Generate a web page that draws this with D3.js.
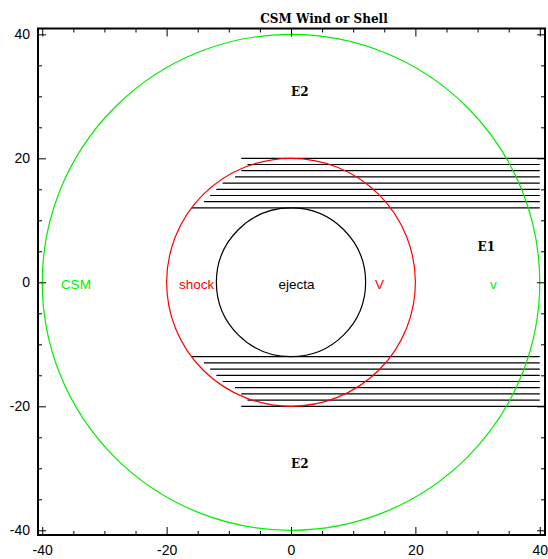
<!DOCTYPE html>
<html>
<head>
<meta charset="utf-8">
<script src="https://cdn.jsdelivr.net/npm/d3@7"></script>
<style>
  body { margin: 0; background: #fff; }
  svg { display: block; }
</style>
</head>
<body>
<div id="chart"></div>
<script>
// circles (radius in data units)
var circleNames = ["CSM", "shock", "ejecta"];
var circleRadii = [40, 20, 12];

// hatch lines: y level, left end, right end
var hatchY     = [20, 19, 18, 17, 16, 15, 14, 13, 12];
var hatchLeft  = [-8, -7, -8, -9, -11, -12, -13, -14, -16];
var hatchRight = [40.8, 40, 40, 40, 40, 40, 40, 40, 40];
var hatchYLow     = [-12, -13, -14, -15, -16, -17, -18, -19, -20];
var hatchLeftLow  = [-16, -14, -13, -12, -11, -9, -8, -7, -8];
var hatchRightLow = [40, 40, 40, 40, 40, 40, 40, 40, 40.8];

// text labels
var labelText = ["CSM", "shock", "ejecta", "V", "v", "E1", "E2", "E2"];
var labelX    = [-37, -18, -2, 13.5, 32, 30, 0, 0];
var labelY    = [-1, -1, -1, -1, -1, 5, 30, -30];

var majorTicks = [-40, -20, 0, 20, 40];
var minorTicks = [-35, -30, -25, -15, -10, -5, 5, 10, 15, 25, 30, 35];

var margin = { left: 38, top: 28.5 };
var width = 507, height = 506.5;

var circleColor = { "CSM": "#00f000", "shock": "#ff0000", "ejecta": "#000" };
var labelColor = { "CSM": "#00f000", "shock": "#ff0000", "V": "#ff0000", "v": "#00f000" };
var serifLabels = { "E1": true, "E2": true };

var svg = d3.select("#chart").append("svg")
  .attr("width", 548)
  .attr("height", 559);

var g = svg.append("g")
  .attr("transform", "translate(" + margin.left + "," + margin.top + ")");

var x = d3.scaleLinear().domain([-40.68, 40.84]).range([0, width]);
var y = d3.scaleLinear().domain([-40.76, 40.94]).range([height, 0]);

// title
svg.append("text")
  .attr("x", 324)
  .attr("y", 23)
  .attr("text-anchor", "middle")
  .attr("font-family", "'DejaVu Serif', serif")
  .attr("font-weight", "bold")
  .attr("font-size", "12px")
  .text("CSM Wind or Shell");

// clip to the frame
svg.append("clipPath").attr("id", "clip")
  .append("rect").attr("width", width).attr("height", height);

var plot = g.append("g").attr("clip-path", "url(#clip)");

// hatch lines
var upper = hatchY.map(function(v, i) { return { y: v, x0: hatchLeft[i], x1: hatchRight[i] }; });
var lower = hatchYLow.map(function(v, i) { return { y: v, x0: hatchLeftLow[i], x1: hatchRightLow[i] }; });

plot.selectAll("line.hatch")
  .data(upper.concat(lower))
  .enter().append("line")
  .attr("class", "hatch")
  .attr("x1", function(d) { return x(d.x0); })
  .attr("x2", function(d) { return x(d.x1); })
  .attr("y1", function(d) { return y(d.y); })
  .attr("y2", function(d) { return y(d.y); })
  .attr("stroke", "#000")
  .attr("stroke-width", 1.2);

// circles
plot.selectAll("ellipse")
  .data(circleNames)
  .enter().append("ellipse")
  .attr("cx", x(0))
  .attr("cy", y(0))
  .attr("rx", function(d, i) { return x(circleRadii[i]) - x(0); })
  .attr("ry", function(d, i) { return y(0) - y(circleRadii[i]); })
  .attr("fill", "none")
  .attr("stroke", function(d) { return circleColor[d]; })
  .attr("stroke-width", 1.2);

// labels
g.selectAll("text.lbl")
  .data(labelText)
  .enter().append("text")
  .attr("class", "lbl")
  .attr("x", function(d, i) { return x(labelX[i]); })
  .attr("y", function(d, i) { return y(labelY[i]); })
  .attr("fill", function(d) { return labelColor[d] || "#000"; })
  .attr("font-family", function(d) { return serifLabels[d] ? "'DejaVu Serif', serif" : "'Liberation Sans', Arial, sans-serif"; })
  .attr("font-weight", function(d) { return serifLabels[d] ? "bold" : "normal"; })
  .attr("font-size", function(d) { return serifLabels[d] ? "12px" : "13.5px"; })
  .text(function(d) { return d; });

// axes (ticks point inward)
function styleAxis(sel) {
  sel.select(".domain").remove();
  sel.selectAll(".tick line").attr("stroke", "#000").attr("stroke-width", 1);
  sel.selectAll(".tick text")
    .attr("font-family", "'Liberation Sans', Arial, sans-serif")
    .attr("font-size", "14px")
    .attr("fill", "#000");
}

var fmt = function(d) { return String(d); };

g.append("g").attr("transform", "translate(0," + height + ")")
  .call(d3.axisBottom(x).tickValues(majorTicks).tickSize(-8).tickPadding(10).tickFormat(fmt))
  .call(styleAxis);
g.append("g").attr("transform", "translate(0," + height + ")")
  .call(d3.axisBottom(x).tickValues(minorTicks).tickSize(-4).tickFormat(""))
  .call(styleAxis);
g.append("g")
  .call(d3.axisTop(x).tickValues(majorTicks).tickSize(-8).tickFormat(""))
  .call(styleAxis);
g.append("g")
  .call(d3.axisTop(x).tickValues(minorTicks).tickSize(-4).tickFormat(""))
  .call(styleAxis);

g.append("g")
  .call(d3.axisLeft(y).tickValues(majorTicks).tickSize(-8).tickPadding(8).tickFormat(fmt))
  .call(styleAxis);
g.append("g")
  .call(d3.axisLeft(y).tickValues(minorTicks).tickSize(-4).tickFormat(""))
  .call(styleAxis);
g.append("g").attr("transform", "translate(" + width + ",0)")
  .call(d3.axisRight(y).tickValues(majorTicks).tickSize(-8).tickFormat(""))
  .call(styleAxis);
g.append("g").attr("transform", "translate(" + width + ",0)")
  .call(d3.axisRight(y).tickValues(minorTicks).tickSize(-4).tickFormat(""))
  .call(styleAxis);

// frame
g.append("rect")
  .attr("width", width)
  .attr("height", height)
  .attr("fill", "none")
  .attr("stroke", "#000")
  .attr("stroke-width", 2);
</script>
</body>
</html>
